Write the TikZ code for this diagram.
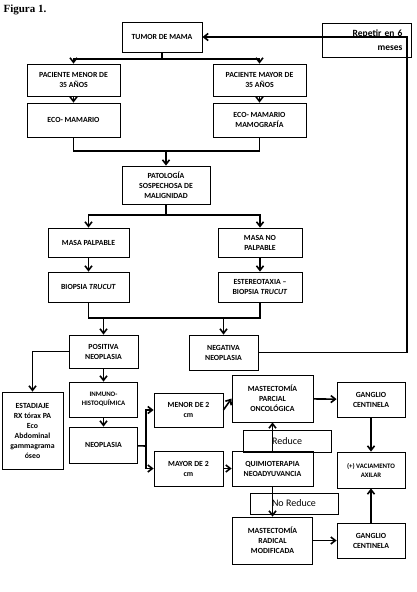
\documentclass[tikz,border=0pt]{standalone}
\usepackage{fontspec}
\setmainfont{Carlito}
\newfontfamily\titfont{Liberation Serif}
\usetikzlibrary{arrows.meta, positioning, calc}

\begin{document}
\begin{tikzpicture}[x=1pt, y=-1pt,
  caja/.style 2 args={rectangle, draw, line width=0.8pt, align=center, inner sep=1pt,
    minimum width=#1pt, minimum height=#2pt, font=\fontsize{7.8}{10}\selectfont\bfseries},
  chica/.style={font=\fontsize{6.8}{9}\selectfont\bfseries},
  nota/.style 2 args={rectangle, draw, line width=0.8pt, align=center, inner sep=1pt,
    minimum width=#1pt, minimum height=#2pt, font=\fontsize{10}{12}\selectfont},
  arrow/.style={-{Straight Barb[length=4.5pt,width=7pt]}, line width=1.6pt},
  linea/.style={line width=1.6pt}
]
\useasboundingbox (0,0) rectangle (416,592);

\node[anchor=base west, font=\titfont\fontsize{11}{13}\selectfont\bfseries] (fig) at (0,12) {Figura 1.};

\node[caja={80}{30}] (tm) at (162,37) {TUMOR DE MAMA};
\node[caja={89}{34}, align=right, text width=72pt, inner xsep=8.5pt,
  font=\fontsize{9.5}{14}\selectfont\bfseries] (rp) at (366.5,40) {Repetir en 6\\meses};

\node[caja={93}{32}] (m35) at (73.5,80) {PACIENTE MENOR DE\\35 AÑOS};
\node[caja={93}{32}] (M35) at (259.5,80) {PACIENTE MAYOR DE\\35 AÑOS};
\node[caja={93}{34}] (eco) at (73.5,120) {ECO- MAMARIO};
\node[caja={93}{34}] (ecm) at (259.5,120) {ECO- MAMARIO\\MAMOGRAFÍA};

\node[caja={88}{38}] (pat) at (166,185) {PATOLOGÍA\\SOSPECHOSA DE\\MALIGNIDAD};

\node[caja={81}{29}] (mp) at (88.5,242.5) {MASA PALPABLE};
\node[caja={84}{29}] (mnp) at (260,242.5) {MASA NO\\PALPABLE};
\node[caja={81}{30}] (bt) at (88.5,287) {BIOPSIA \textit{TRUCUT}};
\node[caja={84}{30}] (est) at (260,287) {ESTEREOTAXIA –\\BIOPSIA \textit{TRUCUT}};

\node[caja={69}{33}] (pos) at (103.5,351.5) {POSITIVA\\NEOPLASIA};
\node[caja={69}{35}] (neg) at (223.5,352.5) {NEGATIVA\\NEOPLASIA};

\node[caja={61}{77}] (sta) at (32.5,430.5) {ESTADIAJE\\RX tórax PA\\Eco\\Abdominal\\gammagrama\\óseo};
\node[caja={68}{35}, chica] (ihq) at (103.5,399.5) {INMUNO-\\HISTOQUÍMICA};
\node[caja={68}{36}] (neo) at (103.5,445) {NEOPLASIA};

\node[caja={69}{34}] (m2) at (188.5,410) {MENOR DE 2\\cm};
\node[caja={69}{35}] (M2) at (188.5,468.5) {MAYOR DE 2\\cm};

\node[caja={81}{47}] (mpo) at (272.5,398.5) {MASTECTOMÍA\\PARCIAL\\ONCOLÓGICA};
\node[caja={81}{35}] (qt) at (272.5,468.5) {QUIMIOTERAPIA\\NEOADYUVANCIA};
\node[caja={80}{47}] (mrm) at (272.5,540.5) {MASTECTOMÍA\\RADICAL\\MODIFICADA};

\node[nota={88}{22}] (red) at (287,441) {Reduce};
\node[nota={88}{21}] (nored) at (294,503.5) {No Reduce};

\node[caja={68}{35}] (gc1) at (371,399.5) {GANGLIO\\CENTINELA};
\node[caja={68}{36}, chica] (vax) at (371,470) {(+) VACIAMENTO\\AXILAR};
\node[caja={68}{35}] (gc2) at (371,540.5) {GANGLIO\\CENTINELA};

\coordinate (b1) at (162,59);
\coordinate (b2) at (166,151);
\coordinate (b3) at (166,215);
\coordinate (b4) at (174,318);
\coordinate (b5) at (146,446);
\coordinate (r1) at (407,37);

\draw[linea] (tm) -- (b1);
\draw[arrow] (b1) -| (m35);
\draw[arrow] (b1) -| (M35);
\draw[arrow] (m35) -- (eco);
\draw[arrow] (M35) -- (ecm);

\draw[linea] (eco) |- (b2) -| (ecm);
\draw[arrow] (b2) -- (pat);

\draw[linea] (pat) -- (b3);
\draw[arrow] (b3) -| (mp);
\draw[arrow] (b3) -| (mnp);
\draw[arrow] (mp) -- (bt);
\draw[arrow] (mnp) -- (est);

\draw[linea] (bt) |- (b4) -| (est);
\draw[arrow] (pos |- b4) -- (pos);
\draw[arrow] (neg |- b4) -- (neg);

\draw[arrow] (neg) -| (r1) -- (tm);

\draw[arrow] (pos) -| (sta);
\draw[arrow] (pos) -- (ihq);
\draw[arrow] (ihq) -- (neo);

\draw[linea] (neo) -- (b5);
\draw[arrow] (b5) |- (m2);
\draw[arrow] (b5) |- (M2);

\draw[arrow] (m2.east) -- (mpo.west);
\draw[arrow] (M2) -- (qt);
\draw[arrow] (qt) -- (mpo);
\draw[arrow] (qt) -- (mrm);

\draw[arrow] (mpo) -- (gc1);
\draw[arrow] (gc1) -- (vax);
\draw[arrow] (mrm) -- (gc2);
\draw[arrow] (gc2) -- (vax);
\end{tikzpicture}
\end{document}
